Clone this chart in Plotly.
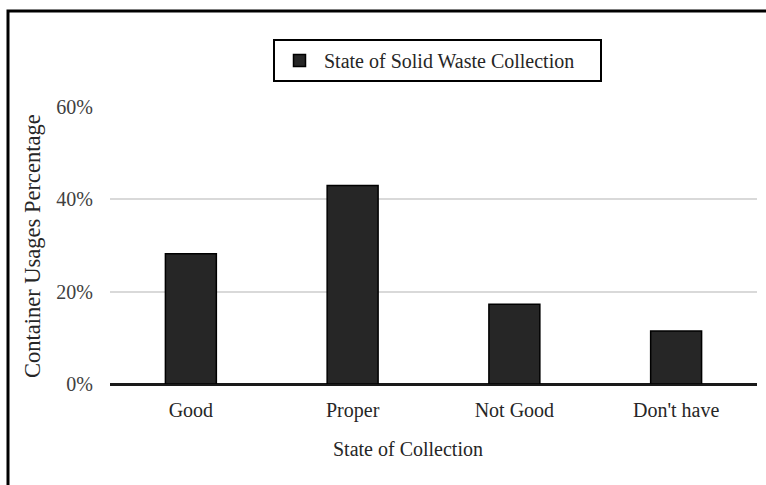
import plotly.graph_objects as go

# Survey results: share of respondents by state of solid waste collection
categories = ["Good", "Proper", "Not Good", "Don't have"]
shares = [0.282, 0.430, 0.173, 0.115]
series_name = "State of Solid Waste Collection"
y_ticks = [0, 0.2, 0.4, 0.6]

FONT = "Liberation Serif, Times New Roman, serif"
TEXT_COLOR = "#404040"

W, H = 766, 485
L, R, T, B = 110, 9, 107, 101
PW, PH = W - L - R, H - T - B


def px_x(px):
    return (px - L) / PW


def px_y(py):
    return (H - B - py) / PH


fig = go.Figure(
    go.Bar(
        x=categories,
        y=shares,
        name=series_name,
        width=0.315,
        marker=dict(color="#262626", line=dict(color="#000000", width=1.5)),
        showlegend=True,
    )
)

fig.update_layout(
    width=W,
    height=H,
    margin=dict(l=L, r=R, t=T, b=B),
    paper_bgcolor="white",
    plot_bgcolor="white",
    font=dict(family=FONT, size=20, color=TEXT_COLOR),
    showlegend=True,
    legend=dict(
        x=px_x(273),
        y=px_y(39),
        xanchor="left",
        yanchor="top",
        orientation="h",
        entrywidth=271,
        bgcolor="white",
        bordercolor="#000000",
        borderwidth=2,
        font=dict(family=FONT, size=20, color="#262626"),
        itemwidth=39,
    ),
    bargap=0.685,
)

fig.update_xaxes(
    showgrid=False,
    showline=True,
    linecolor="#1a1a1a",
    linewidth=2,
    ticks="",
    ticklabelstandoff=7,
    tickfont=dict(family=FONT, size=20, color="#262626"),
)

fig.update_yaxes(
    range=[0, 0.6],
    tickvals=y_ticks,
    tickformat=".0%",
    showgrid=True,
    gridcolor="#d9d9d9",
    gridwidth=1.5,
    zeroline=True,
    zerolinecolor="#1a1a1a",
    zerolinewidth=2,
    showline=False,
    ticks="",
    ticklabelstandoff=16,
    tickfont=dict(family=FONT, size=20, color=TEXT_COLOR),
)

# Axis titles
fig.add_annotation(
    text="State of Collection",
    xref="paper", yref="paper",
    x=px_x(408), y=px_y(449),
    xanchor="center", yanchor="middle",
    showarrow=False,
    font=dict(family=FONT, size=20, color="#262626"),
)
fig.add_annotation(
    text="Container Usages Percentage",
    xref="paper", yref="paper",
    x=px_x(32), y=px_y(246),
    xanchor="center", yanchor="middle",
    textangle=-90,
    showarrow=False,
    font=dict(family=FONT, size=22.5, color="#262626"),
)

# Chart-area frame
fig.add_shape(
    type="rect",
    xref="paper", yref="paper",
    x0=px_x(8), x1=px_x(W + 20),
    y0=px_y(H + 20), y1=px_y(11),
    line=dict(color="#000000", width=3),
    fillcolor="rgba(0,0,0,0)",
    layer="above",
)

fig.write_html("out.html")
